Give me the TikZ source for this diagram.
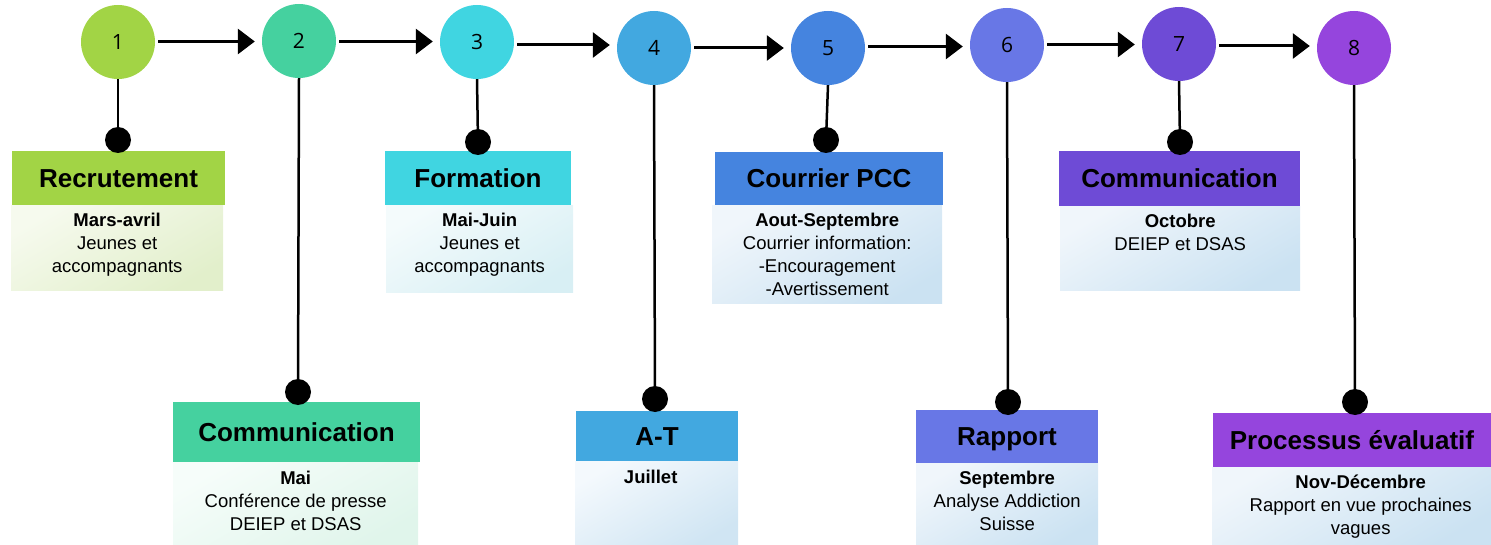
\documentclass[tikz,border=0pt]{standalone}
\usepackage{fontspec}
\setmainfont{Liberation Sans}
\newfontfamily\numfont{Open Sans}
\usetikzlibrary{arrows.meta}
\definecolor{c1}{HTML}{A2D445}
\definecolor{c2}{HTML}{45D19F}
\definecolor{c3}{HTML}{40D5E1}
\definecolor{c4}{HTML}{42A8E0}
\definecolor{c5}{HTML}{4584DF}
\definecolor{c6}{HTML}{6877E6}
\definecolor{c7}{HTML}{6E4BD6}
\definecolor{c8}{HTML}{9545DD}
\definecolor{g1a}{HTML}{F6FAEE}\definecolor{g1b}{HTML}{E2EFCB}
\definecolor{g2a}{HTML}{F6FDFA}\definecolor{g2b}{HTML}{E0F5EB}
\definecolor{g3a}{HTML}{F4FBFC}\definecolor{g3b}{HTML}{D8EFF4}
\definecolor{g4a}{HTML}{F4F9FD}\definecolor{g4b}{HTML}{D0E5F3}
\definecolor{g5a}{HTML}{F0F6FB}\definecolor{g5b}{HTML}{CBE2F2}
\begin{document}
\begin{tikzpicture}[x=1pt,y=-1pt,
  circ/.style={circle, minimum size=74pt, inner sep=0pt, font=\numfont\fontsize{21}{24}\selectfont},
  head/.style={rectangle, inner sep=0pt, text height=18.6pt, text depth=0pt,
    font=\bfseries\fontsize{26}{30}\selectfont},
  bodybox/.style={rectangle, anchor=north west, inner sep=0pt},
  btext/.style={anchor=north, align=center, inner sep=0pt, font=\fontsize{18.5}{23}\selectfont},
  arr/.style={line width=3pt, -{Triangle[length=17pt,width=25pt]}, shorten <=3pt, shorten >=7pt},
  stem/.style={line width=2.5pt},
  dot/.style={circle, fill=black, minimum size=26pt, inner sep=0pt}]
\useasboundingbox (0,0) rectangle (1491,545);

% bodies
\node[bodybox, minimum width=212pt, minimum height=85pt, top color=g1a, bottom color=g1b, shading angle=30] (b1) at (11,205) {};
\node[bodybox, minimum width=245pt, minimum height=83pt, top color=g2a, bottom color=g2b, shading angle=30] (b2) at (173,462) {};
\node[bodybox, minimum width=187pt, minimum height=87pt, top color=g3a, bottom color=g3b, shading angle=30] (b3) at (386,205) {};
\node[bodybox, minimum width=163pt, minimum height=84pt, top color=g4a, bottom color=g4b, shading angle=30] (b4) at (575,461) {};
\node[bodybox, minimum width=230pt, minimum height=98pt, top color=g5a, bottom color=g5b, shading angle=30] (b5) at (712,205) {};
\node[bodybox, minimum width=182pt, minimum height=82pt, top color=g5a, bottom color=g5b, shading angle=30] (b6) at (916,463) {};
\node[bodybox, minimum width=240pt, minimum height=84pt, top color=g5a, bottom color=g5b, shading angle=30] (b7) at (1060,206) {};
\node[bodybox, minimum width=279pt, minimum height=78pt, top color=g5a, bottom color=g5b, shading angle=30] (b8) at (1212,467) {};

% headers
\node[head, fill=c1, minimum width=213pt, minimum height=54pt] (h1) at (118.5,178) {Recrutement};
\node[head, fill=c2, minimum width=247pt, minimum height=60pt] (h2) at (296.5,432) {Communication};
\node[head, fill=c3, minimum width=186pt, minimum height=54pt] (h3) at (478,178) {Formation};
\node[head, fill=c4, minimum width=162pt, minimum height=50pt] (h4) at (657,436) {A-T};
\node[head, fill=c5, minimum width=228pt, minimum height=53pt] (h5) at (829,178.5) {Courrier PCC};
\node[head, fill=c6, minimum width=182pt, minimum height=53pt] (h6) at (1007,436.5) {Rapport};
\node[head, fill=c7, minimum width=241pt, minimum height=55pt] (h7) at (1179.5,178.5) {Communication};
\node[head, fill=c8, minimum width=278pt, minimum height=54pt] (h8) at (1352,440) {Processus évaluatif};

% body texts
\node[btext] (t1) at ([yshift=-8pt]b1.north) {\textbf{Mars-avril}\\Jeunes et\\accompagnants};
\node[btext] (t2) at ([yshift=-9pt]b2.north) {\textbf{Mai}\\Conférence de presse\\DEIEP et DSAS};
\node[btext] (t3) at ([yshift=-8pt]b3.north) {\textbf{Mai-Juin}\\Jeunes et\\accompagnants};
\node[btext] (t4) at ([yshift=-9pt,xshift=-6pt]b4.north) {\textbf{Juillet}};
\node[btext] (t5) at ([yshift=-8pt]b5.north) {\textbf{Aout-Septembre}\\Courrier information:\\-Encouragement\\-Avertissement};
\node[btext] (t6) at ([yshift=-8pt]b6.north) {\textbf{Septembre}\\Analyse Addiction\\Suisse};
\node[btext] (t7) at ([yshift=-8pt]b7.north) {\textbf{Octobre}\\DEIEP et DSAS};
\node[btext] (t8) at ([yshift=-8pt,xshift=9pt]b8.north) {\textbf{Nov-Décembre}\\Rapport en vue prochaines\\vagues};

% circles
\node[circ, fill=c1] (c1) at (118,42) {1};
\node[circ, fill=c2] (c2) at (299,41) {2};
\node[circ, fill=c3] (c3) at (477,42) {3};
\node[circ, fill=c4] (c4) at (654,48) {4};
\node[circ, fill=c5] (c5) at (828,48) {5};
\node[circ, fill=c6] (c6) at (1007,45) {6};
\node[circ, fill=c7] (c7) at (1179,44) {7};
\node[circ, fill=c8] (c8) at (1354,48) {8};

% dots
\node[dot] (d1) at (118,140) {};
\node[dot] (d2) at (298,392) {};
\node[dot] (d3) at (478,142) {};
\node[dot] (d4) at (655,399) {};
\node[dot] (d5) at (826,140) {};
\node[dot] (d6) at (1008,402) {};
\node[dot] (d7) at (1180,142) {};
\node[dot] (d8) at (1355,402) {};

% stems
\foreach \i in {1,...,8} {\draw[stem] (c\i.south) -- (d\i.center);}

% arrows (horizontal, at mid height between consecutive circles)
\foreach \i/\j in {1/2,2/3,3/4,4/5,5/6,6/7,7/8} {
  \path (c\i.center) -- (c\j.center) coordinate[pos=0.5] (m\i);
  \draw[arr] (c\i.east |- m\i) -- (c\j.west |- m\i);
}
\end{tikzpicture}
\end{document}
